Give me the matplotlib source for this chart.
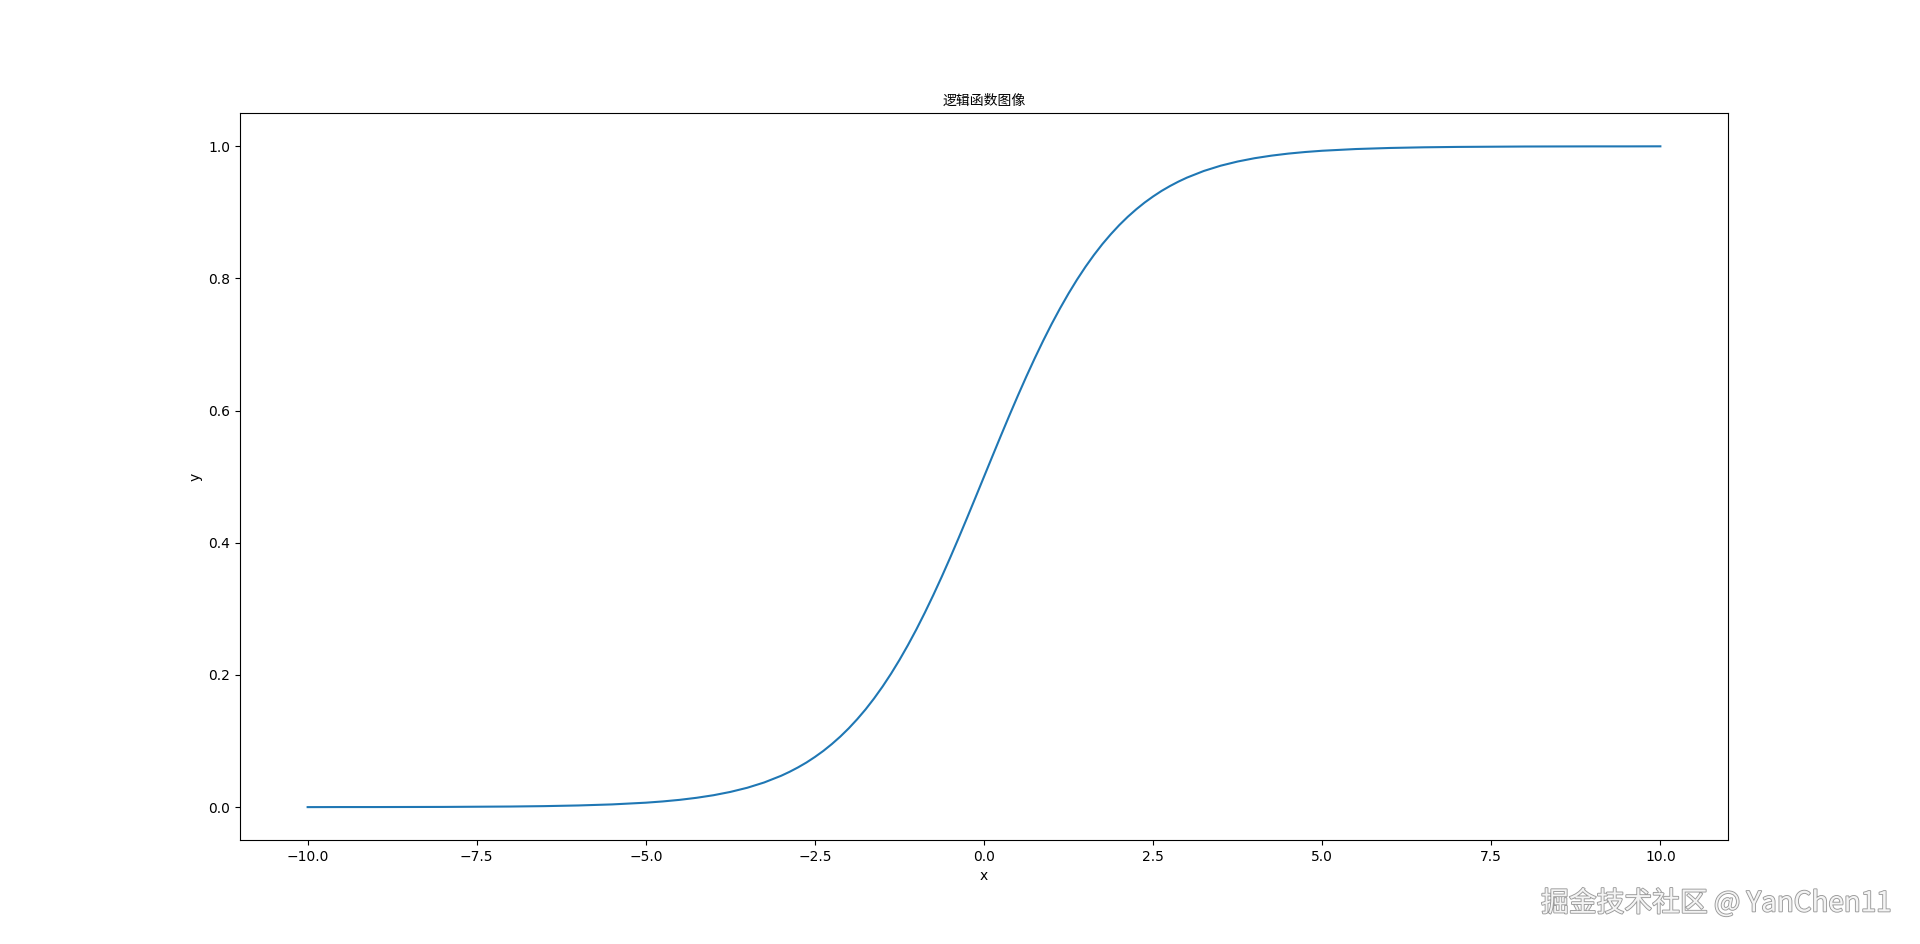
import matplotlib
matplotlib.use("Agg")
import matplotlib.pyplot as plt
import matplotlib.patheffects as pe

# values
x_vals = [-10.0, -9.5, -9.0, -8.5, -8.0, -7.5, -7.0, -6.5, -6.0, -5.5, -5.0,
          -4.75, -4.5, -4.25, -4.0, -3.75, -3.5, -3.25, -3.0,
          -2.875, -2.75, -2.625, -2.5, -2.375, -2.25, -2.125, -2.0,
          -1.875, -1.75, -1.625, -1.5, -1.375, -1.25, -1.125, -1.0,
          -0.875, -0.75, -0.625, -0.5, -0.375, -0.25, -0.125, 0.0,
          0.125, 0.25, 0.375, 0.5, 0.625, 0.75, 0.875, 1.0,
          1.125, 1.25, 1.375, 1.5, 1.625, 1.75, 1.875, 2.0,
          2.125, 2.25, 2.375, 2.5, 2.625, 2.75, 2.875, 3.0,
          3.25, 3.5, 3.75, 4.0, 4.25, 4.5, 4.75, 5.0,
          5.5, 6.0, 6.5, 7.0, 7.5, 8.0, 8.5, 9.0, 9.5, 10.0]
y_vals = [0.0000, 0.0001, 0.0001, 0.0002, 0.0003, 0.0006, 0.0009, 0.0015,
          0.0025, 0.0041, 0.0067,
          0.0086, 0.0110, 0.0141, 0.0180, 0.0230, 0.0293, 0.0373, 0.0474,
          0.0534, 0.0601, 0.0675, 0.0759, 0.0851, 0.0954, 0.1067, 0.1192,
          0.1330, 0.1480, 0.1645, 0.1824, 0.2018, 0.2227, 0.2451, 0.2689,
          0.2942, 0.3208, 0.3486, 0.3775, 0.4073, 0.4378, 0.4688, 0.5000,
          0.5312, 0.5622, 0.5927, 0.6225, 0.6514, 0.6792, 0.7058, 0.7311,
          0.7549, 0.7773, 0.7982, 0.8176, 0.8355, 0.8520, 0.8670, 0.8808,
          0.8933, 0.9046, 0.9149, 0.9241, 0.9325, 0.9399, 0.9466, 0.9526,
          0.9627, 0.9707, 0.9770, 0.9820, 0.9859, 0.9890, 0.9914, 0.9933,
          0.9959, 0.9975, 0.9985, 0.9991, 0.9994, 0.9997, 0.9998, 0.9999,
          0.9999, 1.0000]

title_text = "逻辑函数图像"
watermark = "掘金技术社区 @ YanChen11"

fig, ax = plt.subplots(figsize=(19.2, 9.44), dpi=100)
ax.plot(x_vals, y_vals, color="#1f77b4", linewidth=1.5)
ax.set_xlabel("x")
ax.set_ylabel("y")
ax.set_title(title_text, fontsize=10, family=["Noto Sans CJK SC", "DejaVu Sans"])

fig.text(0.985, 0.043, watermark, ha="right", va="center", fontsize=20,
         color="#f4f4f4", family=["Noto Sans CJK SC", "DejaVu Sans"],
         path_effects=[pe.withStroke(linewidth=1.3, foreground="#9a9a9a")])

fig.savefig("out.png", dpi=100)
